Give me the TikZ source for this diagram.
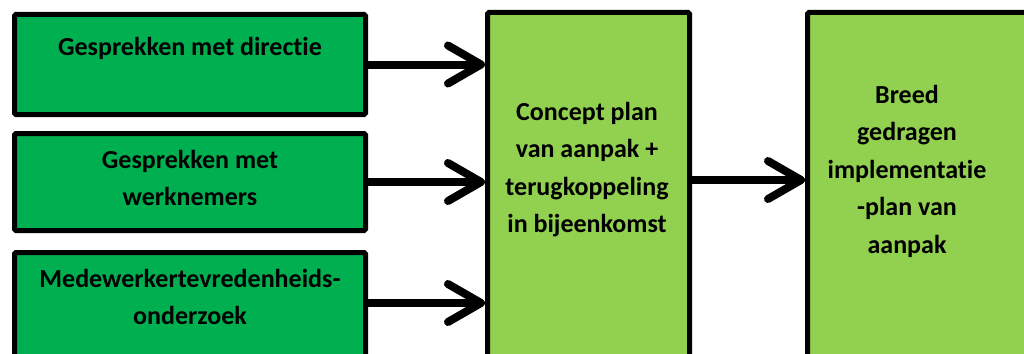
\documentclass[tikz,border=0pt]{standalone}
\usepackage{fontspec}
\setmainfont{Carlito}[Ligatures=NoCommon]
\usetikzlibrary{arrows.meta}
\definecolor{inputgreen}{HTML}{00B050}
\definecolor{plangreen}{HTML}{92D050}

\begin{document}
\begin{tikzpicture}[x=1pt,y=-1pt,
    box/.style={draw=black,line width=5pt,rounded corners=1.5pt,inner sep=0pt},
    txt/.style={font=\bfseries\fontsize{26}{37.5}\selectfont,align=center,anchor=north,inner sep=0pt},
    flow/.style={line width=8pt,-{Straight Barb[length=33pt,width=38pt,line cap=round,line join=round]}}]
    \useasboundingbox (0,0) rectangle (1024,353);
    \clip (0,0) rectangle (1024,353);
    % input boxes
    \node[box,fill=inputgreen,minimum width=351pt,minimum height=100pt] (dir) at (190,64.5) {};
    \node[box,fill=inputgreen,minimum width=351pt,minimum height=97pt] (wkn) at (190,182) {};
    \node[box,fill=inputgreen,minimum width=351pt,minimum height=120pt] (mto) at (190,312.5) {};
    % plan boxes (run off the page)
    \node[box,fill=plangreen,minimum width=202pt,minimum height=380pt] (concept) at (588.5,202.5) {};
    \node[box,fill=plangreen,minimum width=240pt,minimum height=380pt] (breed) at (927.5,202.5) {};
    % texts
    \node[txt] (dirtxt) at (190,37) {Gesprekken met directie};
    \node[txt] (wkntxt) at (190,150) {Gesprekken met\\werknemers};
    \node[txt] (mtotxt) at (190,269) {Medewerkertevredenheids-\\onderzoek};
    \node[txt] (concepttxt) at (587,102) {Concept plan\\van aanpak +\\terugkoppeling\\in bijeenkomst};
    \node[txt] (breedtxt) at (907,85) {Breed\\gedragen\\implementatie\\-plan van\\aanpak};
    % arrows
    \coordinate (mout) at (mto.east |- 0,303);
    \coordinate (cout) at (concept.east |- 0,180);
    \draw[flow] (dir.east) -- (concept.west |- dir.east);
    \draw[flow] (wkn.east) -- (concept.west |- wkn.east);
    \draw[flow] (mout) -- (concept.west |- mout);
    \draw[flow] (cout) -- (breed.west |- cout);
\end{tikzpicture}
\end{document}
